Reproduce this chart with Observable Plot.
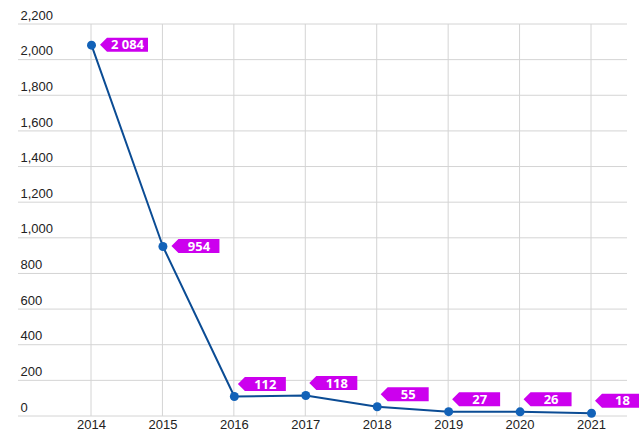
<!DOCTYPE html>
<html><head><meta charset="utf-8">
<script src="https://cdn.jsdelivr.net/npm/d3@7"></script>
<script src="https://cdn.jsdelivr.net/npm/@observablehq/plot@0.6"></script>
<style>body{margin:0;background:#fff;font-family:"Liberation Sans",Arial,sans-serif}</style>
</head><body><div id="chart"></div>
<script>
const years = [2014, 2015, 2016, 2017, 2018, 2019, 2020, 2021];
const values = [2084, 954, 112, 118, 55, 27, 26, 18];
const labels = ["2 084", "954", "112", "118", "55", "27", "26", "18"];
const yTicks = [0, 200, 400, 600, 800, 1000, 1200, 1400, 1600, 1800, 2000, 2200];

const data = years.map((y, i) => ({year: y, value: values[i], label: labels[i]}));
const fmt = d3.format(",");

function grid(index, scales, values, dims) {
  const g = d3.create("svg:g");
  const y0 = scales.y(2200), y1 = scales.y(0);
  for (const t of yTicks) {
    g.append("line").attr("x1", 18).attr("x2", 627)
      .attr("y1", scales.y(t)).attr("y2", scales.y(t))
      .attr("stroke", "#d4d4d4").attr("stroke-width", 1);
  }
  for (const yr of years) {
    g.append("line").attr("x1", scales.x(yr)).attr("x2", scales.x(yr))
      .attr("y1", y0).attr("y2", y1)
      .attr("stroke", "#d4d4d4").attr("stroke-width", 1);
  }
  return g.node();
}

function tags(index, scales, values, dims) {
  const g = d3.create("svg:g");
  for (const d of data) {
    const px = scales.x(d.year), py = scales.y(d.value);
    const small = d.value < 500;
    const tipX = px + (small ? 4 : 9);
    const cy = py + (small ? -12 : 0);
    const h = 14, w = 48, a = 7;
    g.append("path")
      .attr("d", `M${tipX},${cy} L${tipX + a},${cy - h/2} L${tipX + w},${cy - h/2} L${tipX + w},${cy + h/2} L${tipX + a},${cy + h/2} Z`)
      .attr("fill", "#cc00ee");
    g.append("text").attr("x", tipX + a + (w - a) / 2).attr("y", cy)
      .attr("dy", "0.36em").attr("text-anchor", "middle")
      .attr("fill", "#fff").attr("font-weight", "bold").attr("font-size", 13)
      .attr("font-family", "'Open Sans', 'DejaVu Sans', sans-serif")
      .text(d.label);
  }
  return g.node();
}

const chart = Plot.plot({
  width: 639,
  height: 433,
  marginLeft: 91,
  marginRight: 48,
  marginTop: 24,
  marginBottom: 17,
  style: {fontFamily: "'Liberation Sans', Arial, sans-serif", fontSize: "12px", color: "#222"},
  x: {domain: [2014, 2021], axis: null},
  y: {domain: [0, 2200], axis: null},
  marks: [
    grid,
    Plot.text(yTicks, {y: d => d, frameAnchor: "left", dx: -71, dy: -9, textAnchor: "start", text: d => fmt(d), fill: "#222", fontSize: 13}),
    Plot.text(years, {x: d => d, frameAnchor: "bottom", dy: 12, text: d => String(d), fill: "#222", fontSize: 13}),
    Plot.line(data, {x: "year", y: "value", stroke: "#0b4c94", strokeWidth: 2}),
    Plot.dot(data, {x: "year", y: "value", r: 4.5, fill: "#1262b8", stroke: "none"}),
    tags
  ]
});
document.getElementById("chart").append(chart);
</script></body></html>
